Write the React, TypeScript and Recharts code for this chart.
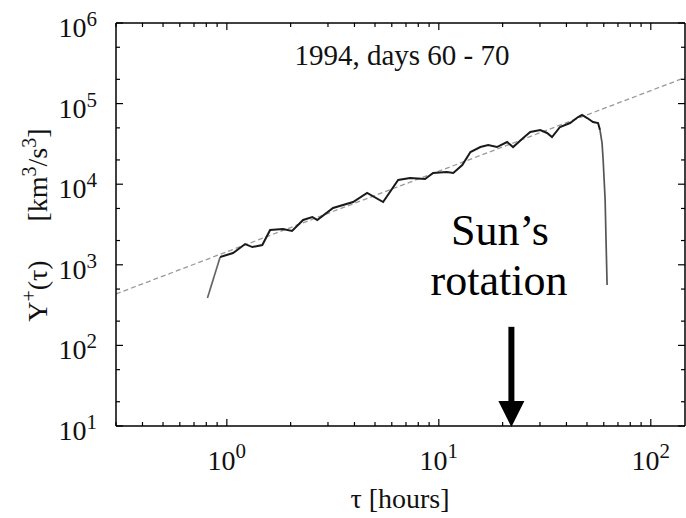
import { ComposedChart, Line, XAxis, YAxis, ReferenceLine, ReferenceDot } from "recharts";

// Y+(tau) structure function, 1994 days 60 - 70
const tauHours = [
  0.81, 0.93, 1.07, 1.22, 1.32, 1.47, 1.6, 1.84, 2.03, 2.29, 2.53, 2.67, 3.17, 3.94, 4.59, 5.46,
  6.43, 7.32, 8.61, 9.4, 10.9, 11.7, 12.9, 14.1, 15.7, 17.1, 18.8, 21.0, 22.4, 25.0, 27.0, 30.1,
  32.4, 34.2, 37.3, 41.6, 45.4, 47.4, 50.1, 53.4, 56.4, 57.6, 58.9, 59.6, 60.9, 61.5, 62.2,
];
const yPlus = [
  387, 1250, 1400, 1810, 1660, 1760, 2700, 2780, 2630, 3600, 3920, 3600, 5070, 6010, 7780, 6010,
  11300, 11900, 11600, 13800, 14200, 13800, 17300, 25100, 28900, 30600, 28900, 33400, 28900, 37400, 44400, 47000,
  43200, 38500, 51300, 57400, 68200, 72200, 66200, 59100, 57400, 47000, 32400, 20000, 6370, 2030, 561,
];

// dashed linear fit, end points
const fitTau = [0.3, 145];
const fitY = [435, 210000];

const xTicks = [0.3, 0.4, 0.5, 0.6, 0.7, 0.8, 0.9, 1, 2, 3, 4, 5, 6, 7, 8, 9, 10, 20, 30, 40, 50, 60, 70, 80, 90, 100];
const yTicks = [10, 20, 50, 100, 200, 500, 1e3, 2e3, 5e3, 1e4, 2e4, 5e4, 1e5, 2e5, 5e5, 1e6];

// Sun's rotation marker
const rotationTau = 22;
const arrowTop = 170;
const arrowBottom = 18;

const series = tauHours.map((t, i) => ({ tau: t, y: yPlus[i] }));
const lead = series.slice(0, 2);
const body = series.slice(1, 42);
const drop = series.slice(41);
const fit = fitTau.map((t, i) => ({ tau: t, y: fitY[i] }));

const serif = "Liberation Serif";
const ink = "#111";

const isMajor = (v: number) => Math.abs(Math.log10(v) - Math.round(Math.log10(v))) < 1e-6;
const expOf = (v: number) => Math.round(Math.log10(v));

const BottomTick = ({ x, y, payload }: any) => {
  const major = isMajor(payload.value);
  return (
    <g>
      <line x1={x} x2={x} y1={y} y2={y - (major ? 7 : 4)} stroke="#000" strokeWidth={1.2} />
      {major && (
        <text x={x} y={y + 44} textAnchor="middle" style={{ fontFamily: serif }} fontSize={28} fill={ink}>
          10<tspan dy={-12} fontSize={21}>{expOf(payload.value)}</tspan>
        </text>
      )}
    </g>
  );
};

const TopTick = ({ x, y, payload }: any) => {
  const major = isMajor(payload.value);
  return <line x1={x} x2={x} y1={y} y2={y + (major ? 7 : 4)} stroke="#000" strokeWidth={1.2} />;
};

const LeftTick = ({ x, y, payload }: any) => {
  const major = isMajor(payload.value);
  return (
    <g>
      <line x1={x} x2={x + (major ? 7 : 4)} y1={y} y2={y} stroke="#000" strokeWidth={1.2} />
      {major && (
        <text x={x - 19} y={y + 14} textAnchor="end" style={{ fontFamily: serif }} fontSize={28} fill={ink}>
          10<tspan dy={-11} fontSize={21}>{expOf(payload.value)}</tspan>
        </text>
      )}
    </g>
  );
};

const RightTick = ({ x, y, payload }: any) => {
  const major = isMajor(payload.value);
  return <line x1={x} x2={x - (major ? 7 : 4)} y1={y} y2={y} stroke="#000" strokeWidth={1.2} />;
};

export default function App() {
  return (
    <div style={{ position: "absolute", left: 0, top: 0, width: 686, height: 518, background: "#fff", fontFamily: serif }}>
      <ComposedChart width={686} height={518} margin={{ top: 22, right: 0, bottom: 0, left: 0 }}>
        <XAxis
          xAxisId="main"
          dataKey="tau"
          type="number"
          scale="log"
          domain={[0.3, 145]}
          allowDataOverflow
          ticks={xTicks}
          interval={0}
          height={92}
          tickSize={0}
          tickMargin={0}
          tickLine={false}
          tick={BottomTick}
          axisLine={{ stroke: "#000", strokeWidth: 1.5 }}
        />
        <XAxis
          xAxisId="top"
          dataKey="tau"
          orientation="top"
          type="number"
          scale="log"
          domain={[0.3, 145]}
          allowDataOverflow
          ticks={xTicks}
          interval={0}
          height={1}
          tickSize={0}
          tickMargin={0}
          tickLine={false}
          tick={TopTick}
          axisLine={{ stroke: "#000", strokeWidth: 1.5 }}
        />
        <YAxis
          yAxisId="main"
          type="number"
          scale="log"
          domain={[10, 1e6]}
          allowDataOverflow
          ticks={yTicks}
          interval={0}
          width={116}
          tickSize={0}
          tickMargin={0}
          tickLine={false}
          tick={LeftTick}
          axisLine={{ stroke: "#000", strokeWidth: 1.5 }}
        />
        <YAxis
          yAxisId="right"
          orientation="right"
          type="number"
          scale="log"
          domain={[10, 1e6]}
          allowDataOverflow
          ticks={yTicks}
          interval={0}
          width={1}
          tickSize={0}
          tickMargin={0}
          tickLine={false}
          tick={RightTick}
          axisLine={{ stroke: "#000", strokeWidth: 1.5 }}
        />
        {/* invisible series so the mirrored top/right axes get drawn */}
        <Line xAxisId="top" yAxisId="right" data={fit} dataKey="y" stroke="none" dot={false} isAnimationActive={false} />
        <Line
          xAxisId="main"
          yAxisId="main"
          data={fit}
          dataKey="y"
          type="linear"
          stroke="#9a9a9a"
          strokeWidth={1.3}
          strokeDasharray="5 3"
          dot={false}
          isAnimationActive={false}
        />
        <Line xAxisId="main" yAxisId="main" data={lead} dataKey="y" type="linear" stroke="#666" strokeWidth={1.7} dot={false} isAnimationActive={false} />
        <Line xAxisId="main" yAxisId="main" data={body} dataKey="y" type="linear" stroke="#1a1a1a" strokeWidth={2} dot={false} isAnimationActive={false} />
        <Line xAxisId="main" yAxisId="main" data={drop} dataKey="y" type="linear" stroke="#555" strokeWidth={1.7} dot={false} isAnimationActive={false} />
        <ReferenceLine
          xAxisId="main"
          yAxisId="main"
          segment={[
            { x: rotationTau, y: arrowTop },
            { x: rotationTau, y: arrowBottom },
          ]}
          stroke="#000"
          strokeWidth={6}
          ifOverflow="visible"
        />
        <ReferenceDot
          xAxisId="main"
          yAxisId="main"
          x={rotationTau}
          y={10}
          r={0}
          ifOverflow="visible"
          shape={(p: any) => (
            <polygon points={`${p.cx - 13},${p.cy - 25} ${p.cx + 13},${p.cy - 25} ${p.cx},${p.cy + 1}`} fill="#000" />
          )}
        />
      </ComposedChart>
      <svg width={686} height={518} style={{ position: "absolute", left: 0, top: 0, pointerEvents: "none", fontFamily: serif }}>
        <text x={402} y={65} textAnchor="middle" fontSize={29} fill={ink}>
          1994, days 60 - 70
        </text>
        <text x={400} y={508} textAnchor="middle" fontSize={28} fill={ink}>
          τ [hours]
        </text>
        <text transform="translate(47,291) rotate(-90)" textAnchor="middle" fontSize={28} fill={ink}>
          Y<tspan dy={-11} fontSize={20}>+</tspan>
          <tspan dy={11}>(τ)</tspan>
        </text>
        <text transform="translate(47,175) rotate(-90)" textAnchor="middle" fontSize={28} fill={ink}>
          [km<tspan dy={-11} fontSize={20}>3</tspan>
          <tspan dy={11}>/s</tspan>
          <tspan dy={-11} fontSize={20}>3</tspan>
          <tspan dy={11}>]</tspan>
        </text>
        <text x={500} y={245} textAnchor="middle" fontSize={44} fill="#000">
          Sun’s
        </text>
        <text x={499} y={295} textAnchor="middle" fontSize={44} fill="#000">
          rotation
        </text>
      </svg>
    </div>
  );
}
